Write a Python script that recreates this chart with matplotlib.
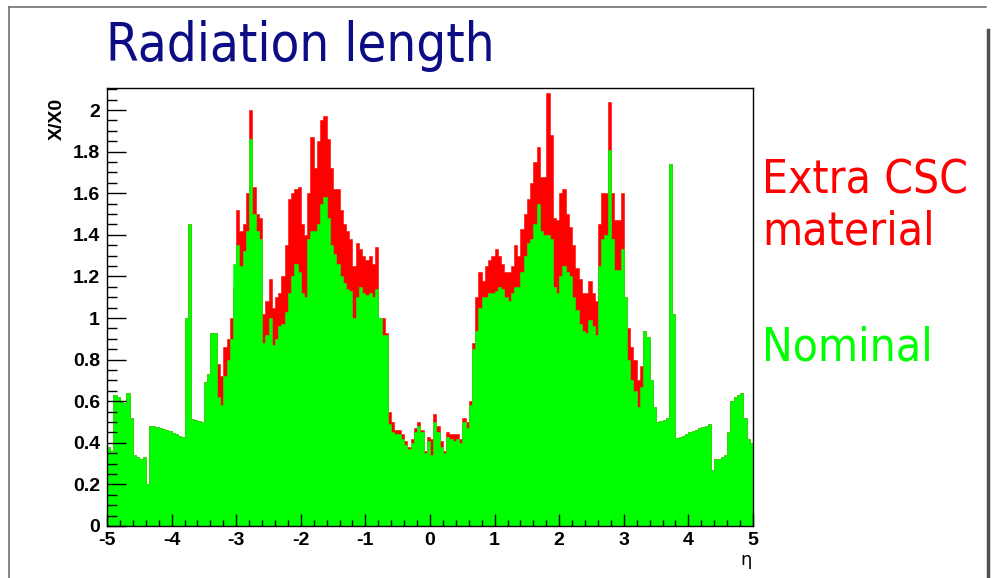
import numpy as np
import matplotlib.pyplot as plt
from matplotlib.lines import Line2D
from matplotlib.ticker import MultipleLocator, FuncFormatter

# eta binning: 200 bins of 0.05 from -5 to 5
eta_edges = np.linspace(-5, 5, 201)

# X/X0 per bin, nominal geometry (one row = 0.5 in eta)
nominal = [
    0.38, 0.36, 0.63, 0.62, 0.60, 0.59, 0.64, 0.52, 0.34, 0.33,
    0.32, 0.33, 0.20, 0.48, 0.48, 0.475, 0.47, 0.465, 0.46, 0.455,
    0.445, 0.44, 0.433, 0.427, 1.00, 1.45, 0.515, 0.51, 0.505, 0.50,
    0.69, 0.73, 0.93, 0.93, 0.62, 0.58, 0.72, 0.80, 0.90, 1.26,
    1.35, 1.25, 1.32, 1.42, 1.86, 1.50, 1.42, 1.38, 0.88, 0.92,
    1.00, 0.87, 0.90, 0.96, 0.97, 1.03, 1.12, 1.20, 1.26, 1.22,
    1.12, 1.10, 1.38, 1.42, 1.42, 1.45, 1.55, 1.58, 1.48, 1.35,
    1.31, 1.26, 1.20, 1.17, 1.14, 1.13, 1.00, 1.10, 1.15, 1.12,
    1.11, 1.12, 1.10, 1.14, 1.00, 0.92, 0.92, 0.49, 0.45, 0.44,
    0.44, 0.42, 0.39, 0.37, 0.40, 0.45, 0.48, 0.45, 0.35, 0.41,
    0.34, 0.50, 0.45, 0.38, 0.35, 0.43, 0.42, 0.41, 0.42, 0.40,
    0.50, 0.47, 0.58, 0.85, 0.94, 1.05, 1.10, 1.10, 1.12, 1.12,
    1.13, 1.15, 1.14, 1.10, 1.08, 1.12, 1.15, 1.15, 1.22, 1.30,
    1.36, 1.38, 1.45, 1.55, 1.42, 1.40, 1.40, 1.38, 1.15, 1.12,
    1.20, 1.25, 1.22, 1.20, 1.10, 1.04, 0.97, 0.94, 0.93, 0.99,
    0.96, 0.92, 1.25, 1.38, 1.40, 1.81, 1.38, 1.23, 1.23, 1.33,
    1.10, 0.80, 0.70, 0.65, 0.57, 0.67, 0.94, 0.91, 0.70, 0.57,
    0.50, 0.505, 0.51, 0.52, 1.74, 1.02, 0.425, 0.43, 0.435, 0.44,
    0.45, 0.456, 0.463, 0.47, 0.476, 0.483, 0.49, 0.27, 0.32, 0.32,
    0.33, 0.34, 0.45, 0.60, 0.62, 0.63, 0.64, 0.52, 0.42, 0.40,
]

# X/X0 per bin with the extra CSC material
extra_csc = [
    0.38, 0.36, 0.63, 0.62, 0.60, 0.59, 0.64, 0.52, 0.34, 0.33,
    0.32, 0.33, 0.20, 0.48, 0.48, 0.475, 0.47, 0.465, 0.46, 0.455,
    0.445, 0.44, 0.433, 0.427, 1.00, 1.45, 0.515, 0.51, 0.505, 0.50,
    0.69, 0.73, 0.93, 0.93, 0.78, 0.72, 0.86, 0.90, 1.00, 1.15,
    1.52, 1.42, 1.45, 1.60, 2.00, 1.63, 1.50, 1.48, 1.02, 1.08,
    1.19, 1.05, 1.10, 1.12, 1.20, 1.35, 1.57, 1.60, 1.62, 1.63,
    1.45, 1.40, 1.60, 1.87, 1.72, 1.85, 1.95, 1.97, 1.86, 1.72,
    1.62, 1.62, 1.52, 1.45, 1.42, 1.38, 1.25, 1.36, 1.33, 1.30,
    1.28, 1.30, 1.26, 1.34, 1.00, 1.00, 0.93, 0.55, 0.50, 0.46,
    0.46, 0.44, 0.41, 0.38, 0.42, 0.47, 0.50, 0.46, 0.36, 0.43,
    0.42, 0.54, 0.48, 0.41, 0.36, 0.45, 0.44, 0.44, 0.44, 0.42,
    0.52, 0.50, 0.60, 0.88, 1.10, 1.22, 1.18, 1.25, 1.28, 1.30,
    1.33, 1.30, 1.26, 1.22, 1.22, 1.25, 1.35, 1.30, 1.43, 1.50,
    1.57, 1.65, 1.75, 1.82, 1.68, 1.68, 2.08, 1.88, 1.48, 1.47,
    1.60, 1.62, 1.50, 1.44, 1.35, 1.24, 1.19, 1.12, 1.12, 1.18,
    1.12, 1.08, 1.45, 1.60, 1.60, 2.04, 1.60, 1.47, 1.47, 1.60,
    1.10, 0.95, 0.86, 0.80, 0.70, 0.77, 0.94, 0.91, 0.70, 0.57,
    0.50, 0.505, 0.51, 0.52, 1.74, 1.02, 0.425, 0.43, 0.435, 0.44,
    0.45, 0.456, 0.463, 0.47, 0.476, 0.483, 0.49, 0.27, 0.32, 0.32,
    0.33, 0.34, 0.45, 0.60, 0.62, 0.63, 0.64, 0.52, 0.42, 0.40,
]

W, H = 996, 578
fig = plt.figure(figsize=(W / 100, H / 100), dpi=100)
fig.patch.set_facecolor('white')

# slide frame
frame_col = '#707070'
fig.add_artist(Line2D([9 / W, 986 / W], [1 - 7 / H, 1 - 7 / H], color=frame_col, lw=1.2))
fig.add_artist(Line2D([9 / W, 9 / W], [1 - 7 / H, 0], color=frame_col, lw=1.2))
fig.add_artist(Line2D([988 / W, 988 / W], [1 - 30 / H, 0], color='#505050', lw=2.5))

ax = fig.add_axes([107 / W, 1 - 526 / H, (753 - 107) / W, (526 - 88) / H])

ax.stairs(extra_csc, eta_edges, fill=True, facecolor='#ff0000',
          edgecolor='#ff0000', lw=0.4)
ax.stairs(nominal, eta_edges, fill=True, facecolor='#00ff00',
          edgecolor='#00ff00', lw=0.4)

ax.set_xlim(-5, 5)
ax.set_ylim(0, 2.106)

narrow = ['Liberation Sans Narrow', 'Liberation Sans']
ax.xaxis.set_major_locator(MultipleLocator(1))
ax.xaxis.set_minor_locator(MultipleLocator(0.2))
ax.yaxis.set_major_locator(MultipleLocator(0.2))
ax.yaxis.set_minor_locator(MultipleLocator(0.05))
ax.yaxis.set_major_formatter(FuncFormatter(lambda v, p: '%g' % round(v, 2)))
ax.xaxis.set_major_formatter(FuncFormatter(lambda v, p: '%g' % round(v, 2)))
ax.tick_params(axis='x', which='major', direction='in', length=8.6, width=1, pad=4.5)
ax.tick_params(axis='x', which='minor', direction='in', length=4.3, width=1)
ax.tick_params(axis='y', which='major', direction='in', length=13.7, width=1, pad=5)
ax.tick_params(axis='y', which='minor', direction='in', length=7.2, width=1)
for lab in ax.get_xticklabels() + ax.get_yticklabels():
    lab.set_fontfamily(narrow)
    lab.set_fontweight('bold')
    lab.set_fontsize(14)
for sp in ax.spines.values():
    sp.set_linewidth(1)

fig.text(57 / W, 1 - 98 / H, 'X/X0', rotation=90, ha='center', va='top',
         fontsize=14, fontweight='bold', family=narrow)
fig.text(752 / W, 1 - 560 / H, 'η', ha='right', va='center', fontsize=13)

big = dict(family='DejaVu Sans', fontstretch='condensed')
fig.text(106 / W, 1 - 46 / H, 'Radiation length', color='#0c0c85',
         fontsize=37.8, ha='left', va='center', **big)

fig.text(762 / W, 1 - 181 / H, 'Extra CSC', color='#ff0000', fontsize=33,
         ha='left', va='center', **big)
fig.text(762 / W, 1 - 232 / H, 'material', color='#ff0000', fontsize=33,
         ha='left', va='center', **big)
fig.text(762 / W, 1 - 348 / H, 'Nominal', color='#00ff00', fontsize=33,
         ha='left', va='center', **big)

fig.savefig('out.png', dpi=100)
